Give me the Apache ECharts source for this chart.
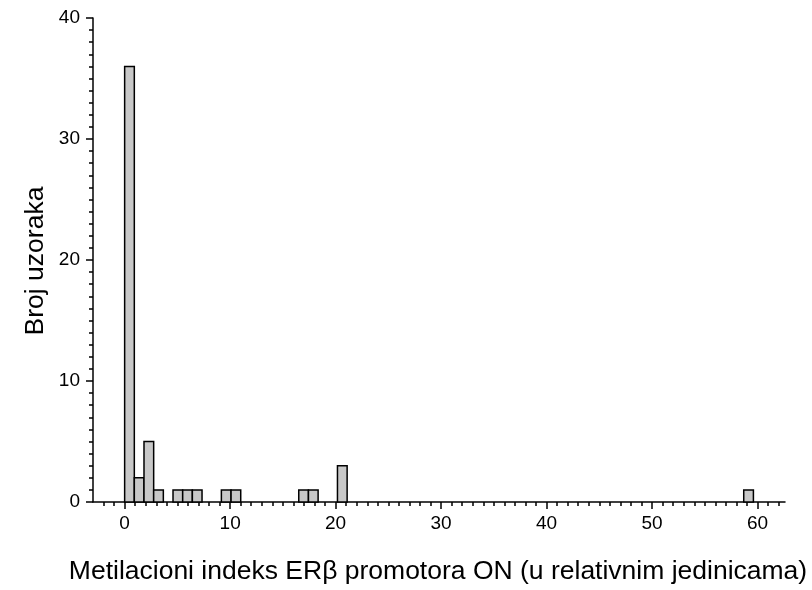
<!DOCTYPE html>
<html>
<head>
<meta charset="utf-8">
<script src="https://cdn.jsdelivr.net/npm/echarts@6/dist/echarts.min.js"></script>
<style>
  html, body { margin: 0; padding: 0; background: #fff; }
  #chart { width: 812px; height: 590px; }
</style>
</head>
<body>
<div id="chart"></div>
<script>
// Histogram of methylation index: bin width and per-bin sample counts
const binWidth = 0.917;
const binIndex = [0, 1, 2, 3, 5, 6, 7, 10, 11, 18, 19, 22, 64];
const binCount = [36, 2, 5, 1, 1, 1, 1, 1, 1, 1, 1, 3, 1];

const xMajorTicks = [0, 10, 20, 30, 40, 50, 60];
const xMinorTicks = [];
for (let v = -2; v <= 62; v++) xMinorTicks.push(v);

const xTitle = 'Metilacioni indeks ERβ promotora ON (u relativnim jedinicama)';
const yTitle = 'Broj uzoraka';

const bars = binIndex.map((b, i) => [b * binWidth, (b + 1) * binWidth, binCount[i]]);

const font = 'Liberation Sans, Arial, sans-serif';
const xMin = -3, xMax = 62.6;

const chart = echarts.init(document.getElementById('chart'));
chart.setOption({
  animation: false,
  backgroundColor: '#fff',
  grid: { left: 93, right: 27, top: 18, bottom: 88 },
  graphic: [
    {
      type: 'text', x: 438, y: 572,
      style: { text: xTitle, font: '26.5px ' + font, fill: '#000', align: 'center', verticalAlign: 'middle' }
    },
    {
      type: 'text', x: 36, y: 261, rotation: Math.PI / 2,
      style: { text: yTitle, font: '26.5px ' + font, fill: '#000', align: 'center', verticalAlign: 'middle' }
    }
  ],
  xAxis: [
    {
      type: 'value', min: xMin, max: xMax,
      axisLine: { show: true, onZero: false, lineStyle: { color: '#000', width: 1.5 } },
      axisTick: { show: true, inside: false, length: 7, customValues: xMajorTicks,
                  lineStyle: { color: '#000', width: 1.5 } },
      axisLabel: { customValues: xMajorTicks, margin: 12, fontFamily: font, fontSize: 19, color: '#000' },
      splitLine: { show: false }
    },
    {
      type: 'value', min: xMin, max: xMax, position: 'bottom',
      axisLine: { show: false, onZero: false },
      axisTick: { show: true, inside: false, length: 4, customValues: xMinorTicks,
                  lineStyle: { color: '#000', width: 1.5 } },
      axisLabel: { show: false },
      splitLine: { show: false }
    }
  ],
  yAxis: {
    type: 'value', min: 0, max: 40, interval: 10,
    axisLine: { show: true, onZero: false, lineStyle: { color: '#000', width: 1.5 } },
    axisTick: { show: true, inside: false, length: 7, lineStyle: { color: '#000', width: 1.5 } },
    minorTick: { show: true, splitNumber: 10, length: 4, lineStyle: { color: '#000', width: 1.5 } },
    axisLabel: { margin: 13, fontFamily: font, fontSize: 19, color: '#000' },
    splitLine: { show: false }
  },
  series: [{
    type: 'custom',
    xAxisIndex: 0,
    data: bars,
    renderItem: function (params, api) {
      const p0 = api.coord([api.value(0), 0]);
      const p1 = api.coord([api.value(1), api.value(2)]);
      return {
        type: 'rect',
        shape: { x: p0[0], y: p1[1], width: p1[0] - p0[0], height: p0[1] - p1[1] },
        style: { fill: '#c8c8c8', stroke: '#000', lineWidth: 1.5 }
      };
    }
  }]
});
</script>
</body>
</html>
